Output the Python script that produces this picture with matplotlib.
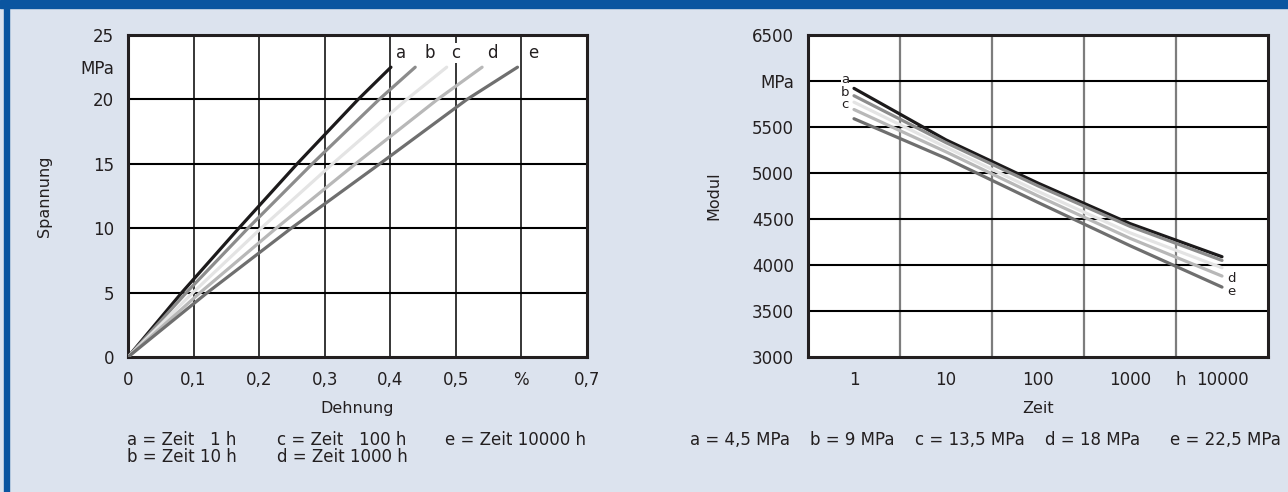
import numpy as np
import matplotlib.pyplot as plt
from matplotlib.patches import Rectangle

plt.rcParams['font.family'] = ['DejaVu Sans']

bg = '#dce3ee'
blue = '#0a55a0'
frame_col = '#231f20'

# left chart: stress-strain curves (strain in %, stress in MPa)
stress = [0, 5, 10, 15, 20, 22.5]
strain_a = [0, 0.082, 0.169, 0.258, 0.351, 0.401]
strain_b = [0, 0.089, 0.183, 0.281, 0.383, 0.438]
strain_c = [0, 0.099, 0.203, 0.312, 0.425, 0.486]
strain_d = [0, 0.110, 0.226, 0.347, 0.472, 0.540]
strain_e = [0, 0.121, 0.249, 0.384, 0.517, 0.594]
left_names = ['a', 'b', 'c', 'd', 'e']
left_legend = ['a = Zeit   1 h', 'b = Zeit 10 h', 'c = Zeit   100 h',
               'd = Zeit 1000 h', 'e = Zeit 10000 h']

# right chart: modulus over time
zeit = [1, 10, 100, 1000, 10000]
modul_a = [5920, 5360, 4890, 4450, 4090]
modul_b = [5840, 5330, 4860, 4420, 4050]
modul_c = [5770, 5280, 4800, 4350, 3970]
modul_d = [5690, 5230, 4750, 4290, 3880]
modul_e = [5590, 5160, 4680, 4210, 3760]
right_legend = ['a = 4,5 MPa', 'b = 9 MPa', 'c = 13,5 MPa', 'd = 18 MPa', 'e = 22,5 MPa']

colors = ['#1c1a1b', '#8c8c8c', '#e4e4e4', '#b8b8b8', '#6f6f6f']

fig = plt.figure(figsize=(12.88, 4.92), dpi=100, facecolor=bg)
fig.patches.append(Rectangle((0, 1 - 8 / 492), 1, 8 / 492, transform=fig.transFigure,
                             color=blue, zorder=0))
fig.patches.append(Rectangle((4 / 1288, 0), 5 / 1288, 1, transform=fig.transFigure,
                             color=blue, zorder=0))

fs = 12

# ---------------- left ----------------
ax = fig.add_axes([128 / 1288, 135 / 492, 459 / 1288, 322 / 492])
ax.set_xlim(0, 0.7)
ax.set_ylim(0, 25)
for gx in np.arange(0.1, 0.7, 0.1):
    ax.axvline(gx, color='black', lw=1.1, zorder=1)
for gy in [5, 10, 15, 20]:
    ax.axhline(gy, color='black', lw=1.5, zorder=1)
for s, c in zip([strain_a, strain_b, strain_c, strain_d, strain_e], colors):
    ax.plot(s, stress, color=c, lw=2.3, solid_capstyle='round', zorder=3)
for name, x in zip(left_names, [0.416, 0.46, 0.50, 0.556, 0.618]):
    ax.text(x, 23.6, name, ha='center', va='center', fontsize=fs, color=frame_col,
            bbox=dict(facecolor='white', edgecolor='none', pad=1), zorder=4)
ax.set_xticks([0, 0.1, 0.2, 0.3, 0.4, 0.5, 0.6, 0.7])
ax.set_xticklabels(['0', '0,1', '0,2', '0,3', '0,4', '0,5', '%', '0,7'])
ax.set_yticks([0, 5, 10, 15, 20, 22.5, 25])
ax.set_yticklabels(['0', '5', '10', '15', '20', 'MPa', '25'])
ax.tick_params(length=0, labelsize=fs, colors=frame_col, pad=10)
ax.set_xlabel('Dehnung', fontsize=fs - 0.5, color=frame_col, labelpad=9)
ax.set_ylabel('Spannung', fontsize=fs - 0.5, color=frame_col, labelpad=20)
for sp in ax.spines.values():
    sp.set_linewidth(2.2)
    sp.set_color(frame_col)

# ---------------- right ----------------
ax2 = fig.add_axes([808 / 1288, 135 / 492, 460 / 1288, 322 / 492])
ax2.set_xscale('log')
ax2.set_xlim(10 ** -0.5, 10 ** 4.5)
ax2.set_ylim(3000, 6500)
for k in range(4):
    ax2.axvline(10 ** (k + 0.5), color='#7d7d7d', lw=1.6, zorder=1)
for gy in range(3500, 6500, 500):
    ax2.axhline(gy, color='black', lw=1.5, zorder=1)
for m, c in zip([modul_a, modul_b, modul_c, modul_d, modul_e], colors):
    ax2.plot(zeit, m, color=c, lw=2.3, solid_capstyle='round', zorder=3)
for name, y in zip(['a', 'b', 'c'], [6015, 5880, 5745]):
    ax2.text(0.8, y, name, ha='center', va='center', fontsize=9.5, color=frame_col,
             bbox=dict(facecolor='white', edgecolor='none', pad=0), zorder=4)
for name, y in zip(['d', 'e'], [3855, 3715]):
    ax2.text(12800, y, name, ha='center', va='center', fontsize=9.5, color=frame_col,
             zorder=4)
ax2.xaxis.set_minor_locator(plt.NullLocator())
ax2.set_xticks([1, 10, 100, 1000, 10 ** 3.55, 10000])
ax2.set_xticklabels(['1', '10', '100', '1000', 'h', '10000'])
ax2.set_yticks(list(range(3000, 7000, 500)))
ax2.set_yticklabels(['3000', '3500', '4000', '4500', '5000', '5500', 'MPa', '6500'])
ax2.tick_params(length=0, labelsize=fs, colors=frame_col, pad=10)
ax2.set_xlabel('Zeit', fontsize=fs - 0.5, color=frame_col, labelpad=9)
ax2.set_ylabel('Modul', fontsize=fs - 0.5, color=frame_col, labelpad=22)
for sp in ax2.spines.values():
    sp.set_linewidth(2.2)
    sp.set_color(frame_col)

# ---------------- footnotes ----------------
lx = [127, 127, 277, 277, 445]
ly = [440, 457, 440, 457, 440]
for t, x, y in zip(left_legend, lx, ly):
    fig.text(x / 1288, 1 - y / 492, t, fontsize=fs, color=frame_col, va='center', ha='left')
rx = [690, 810, 915, 1045, 1170]
for t, x in zip(right_legend, rx):
    fig.text(x / 1288, 1 - 440 / 492, t, fontsize=fs, color=frame_col, va='center', ha='left')

fig.savefig('out.png', dpi=100, facecolor=bg)
